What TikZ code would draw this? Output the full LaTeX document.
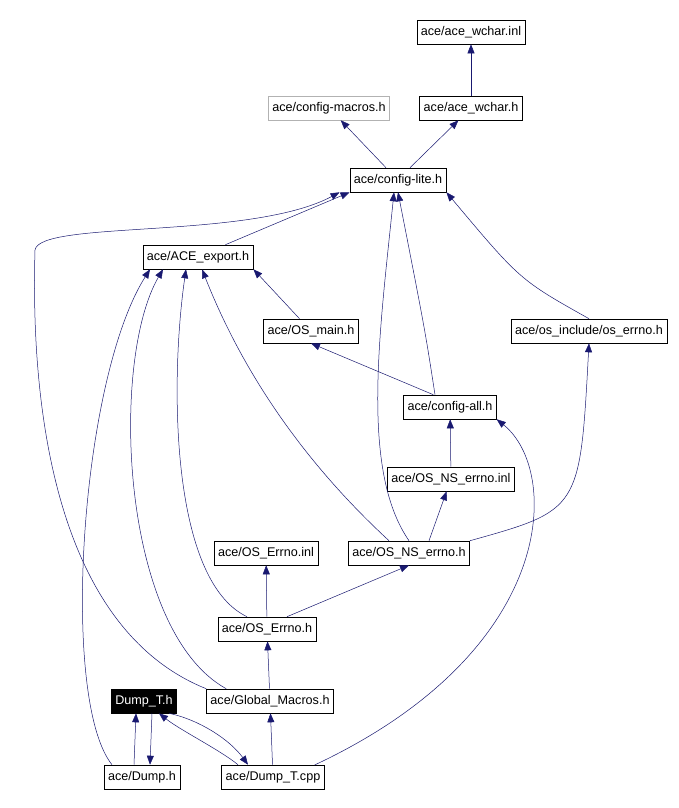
\documentclass[tikz,border=0pt]{standalone}
\usepackage{fontspec}
\setmainfont{Liberation Sans}
\usetikzlibrary{arrows.meta}
\begin{document}
\begin{tikzpicture}[x=1pt,y=-1pt,>={Triangle[length=9pt,width=7pt]},font=\fontsize{12.6}{14}\selectfont]
  \tikzset{file/.style={draw,rectangle,line width=0.6pt,minimum height=24pt,inner xsep=4pt},
           dep/.style={->,draw={rgb,255:red,25;green,25;blue,112},line width=0.5pt}}
  \useasboundingbox (0,0) rectangle (678,808);
  \node[file] (wcharinl) at (471,32) {ace/ace\_wchar.inl};
  \node[file] (wcharh) at (471,108) {ace/ace\_wchar.h};
  \node[file,draw=gray!60] (macros) at (329,108) {ace/config-macros.h};
  \node[file] (lite) at (398,180) {ace/config-lite.h};
  \node[file] (export) at (198,257) {ace/ACE\_export.h};
  \node[file] (osmain) at (311,331) {ace/OS\_main.h};
  \node[file] (inclerrno) at (589,331) {ace/os\_include/os\_errno.h};
  \node[file] (all) at (450,407) {ace/config-all.h};
  \node[file] (nsinl) at (451,479) {ace/OS\_NS\_errno.inl};
  \node[file] (errnoinl) at (266,553) {ace/OS\_Errno.inl};
  \node[file] (nsh) at (409,553) {ace/OS\_NS\_errno.h};
  \node[file] (errnoh) at (267,629) {ace/OS\_Errno.h};
  \node[file] (macrosh) at (270,701) {ace/Global\_Macros.h};
  \node[file,fill=black,text=white] (dumpth) at (144,701) {Dump\_T.h};
  \node[file] (dumph) at (142,777) {ace/Dump.h};
  \node[file] (dumptcpp) at (273,777) {ace/Dump\_T.cpp};

  \path[dep] (wcharh) -- (wcharinl);
  \path[dep] (lite.north) ++(-12,0) -- (macros);
  \path[dep] (lite.north) ++(12,0) -- (wcharh);
  \path[dep] (export.north east) ++(-28,0) -- (lite.south west);
  \path[dep] (osmain) -- (export.south east);
  \path[dep] (all.north west) ++(30,0) -- (osmain.south);
  \path[dep] (all.north) ++(-15,0) .. controls (425,330) .. (lite.south);
  \path[dep] (inclerrno.north) .. controls (520,280) .. (lite.south east);
  \path[dep] (nsh.north) .. controls (360,470) and (380,330) .. ([xshift=-4pt]lite.south);
  \path[dep] (nsh.north) ++(-20,0) .. controls (280,440) and (230,340) .. ([xshift=4pt]export.south);
  \path[dep] (nsh.north) ++(20,0) -- (nsinl);
  \path[dep] (nsh.north east) .. controls (580,510) .. (inclerrno.south);
  \path[dep] (nsinl) -- (all);
  \path[dep] (errnoh) -- (errnoinl);
  \path[dep] (errnoh.north) ++(20,0) -- (nsh.south);
  \path[dep] (errnoh.north) ++(-20,0) .. controls (170,580) and (170,380) .. ([xshift=-12pt]export.south);
  \path[dep] (macrosh) -- (errnoh);
  \path[dep] (macrosh.north west) ++(20,0) .. controls (120,630) and (110,360) .. ([xshift=-35pt]export.south);
  \path[dep] (macrosh.north west) .. controls (60,630) and (30,420) .. (35,250) .. controls (40,220) and (250,240) .. ([xshift=-10pt]lite.south west);
  \path[dep] (dumptcpp) -- (macrosh);
  \path[dep] (dumptcpp.east) ++(-10,-12) .. controls (560,650) and (560,470) .. (all.south east);
  \path[dep] ([xshift=-8pt]dumph.north) -- ([xshift=-8pt]dumpth.south);
  \path[dep] ([xshift=8pt]dumpth.south) -- ([xshift=8pt]dumph.north);
  \path[dep] ([xshift=-35pt]dumptcpp.north) .. controls (220,750) and (180,730) .. ([xshift=15pt]dumpth.south);
  \path[dep] ([xshift=25pt]dumpth.south) .. controls (200,720) and (230,740) .. ([xshift=-25pt]dumptcpp.north);
  \path[dep] ([xshift=-30pt]dumph.north) .. controls (60,700) and (80,380) .. ([xshift=-48pt]export.south);
\end{tikzpicture}
\end{document}
